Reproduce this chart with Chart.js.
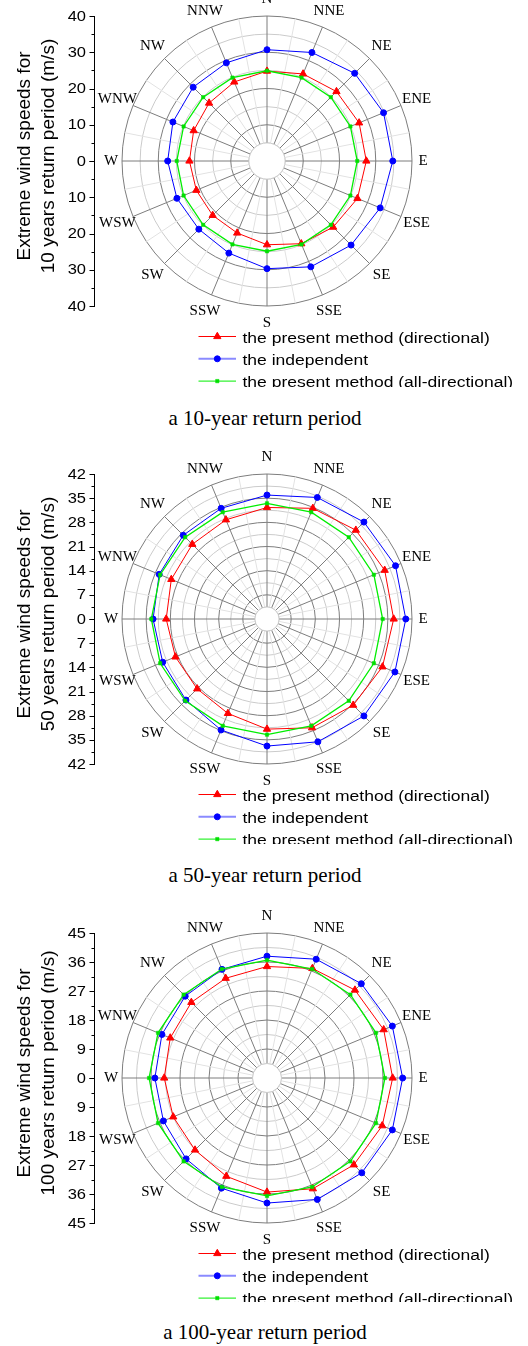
<!DOCTYPE html>
<html>
<head>
<meta charset="utf-8">
<script src="https://cdn.jsdelivr.net/npm/chart.js@4.4.1/dist/chart.umd.min.js"></script>
<style>
  body { margin: 0; background: #fff; width: 528px; height: 1346px; position: relative; overflow: hidden; }
  canvas { position: absolute; left: 0; }
  .caption {
    position: absolute; left: 0; width: 530px; text-align: center;
    font-family: "Liberation Serif", "Times New Roman", serif; font-size: 21px; line-height: 24px; color: #000;
  }
</style>
</head>
<body>
<canvas id="c10" width="528" height="387" style="top:0px"></canvas>
<div class="caption" style="top:406px">a 10-year return period</div>
<canvas id="c50" width="528" height="409" style="top:435px"></canvas>
<div class="caption" style="top:863px">a 50-year return period</div>
<canvas id="c100" width="528" height="407" style="top:895px"></canvas>
<div class="caption" style="top:1320px">a 100-year return period</div>

<script>
const directions = ['N', 'NNE', 'NE', 'ENE', 'E', 'ESE', 'SE', 'SSE', 'S', 'SSW', 'SW', 'WSW', 'W', 'WNW', 'NW', 'NNW'];
const seriesNames = ['the present method (directional)', 'the independent', 'the present method (all-directional)'];

// extreme wind speeds (m/s), 10 years
const directional10 = [24.8, 26.0, 27.1, 27.5, 27.4, 27.0, 25.8, 24.7, 23.1, 21.5, 21.2, 21.1, 21.4, 21.9, 22.6, 23.6];
const independent10 = [30.7, 32.4, 34.2, 34.8, 34.7, 33.8, 32.8, 31.6, 29.7, 27.5, 26.6, 26.9, 27.4, 28.1, 28.8, 29.3];
const allDirectional10 = [24.9, 24.9, 24.9, 24.9, 24.9, 24.9, 24.9, 24.9, 24.9, 24.9, 24.9, 24.9, 24.9, 24.9, 24.9, 24.9];
const ticks10 = [0, 10, 20, 30, 40];

// 50 years
const directional50 = [32.3, 34.7, 36.4, 36.9, 36.7, 36.2, 35.3, 34.1, 31.9, 29.6, 28.6, 28.7, 29.2, 30.0, 30.6, 31.1];
const independent50 = [35.9, 38.1, 39.7, 40.3, 40.2, 40.1, 39.7, 38.5, 36.8, 34.8, 33.2, 32.7, 33.0, 33.8, 34.3, 34.7];
const allDirectional50 = [33.5, 33.5, 33.5, 33.5, 33.5, 33.5, 33.5, 33.5, 33.5, 33.5, 33.5, 33.5, 33.5, 33.5, 33.5, 33.5];
const ticks50 = [0, 7, 14, 21, 28, 35, 42];

// 100 years
const directional100 = [34.6, 36.8, 38.6, 39.2, 39.0, 38.7, 38.1, 37.2, 35.4, 33.0, 31.6, 31.5, 31.9, 32.5, 33.2, 33.5];
const independent100 = [37.8, 39.9, 41.4, 42.1, 42.1, 42.1, 41.6, 40.8, 38.8, 37.0, 35.5, 34.8, 34.8, 35.3, 35.9, 36.5];
const allDirectional100 = [36.6, 36.6, 36.6, 36.6, 36.6, 36.6, 36.6, 36.6, 36.6, 36.6, 36.6, 36.6, 36.6, 36.6, 36.6, 36.6];
const ticks100 = [0, 9, 18, 27, 36, 45];

const DARK = '#7d7d7d';
const LIGHT = '#cbcbcb';
const FAINT = '#e2e2e2';

// every direction gets a blank spoke after it (minor angular grid)
const spokeLabels = directions.flatMap(d => [d, '']);
function withGaps(values) {
  return values.flatMap(v => [v, null]);
}

function isMajor(v, major) {
  const q = v / major;
  return Math.abs(q - Math.round(q)) < 1e-6;
}

function marker(ctx, ds, x, y) {
  const o = { pointStyle: ds.pointStyle, radius: ds.pointRadius, rotation: 0, borderWidth: ds.pointBorderWidth };
  ctx.fillStyle = ds.pointBackgroundColor;
  ctx.strokeStyle = ds.pointBorderColor;
  ctx.lineWidth = ds.pointBorderWidth;
  Chart.helpers.drawPoint(ctx, o, x, y);
}

const polarFrame = {
  id: 'polarFrame',
  beforeDatasetsDraw(chart, args, opts) {
    // white hub in the middle, spokes start at the first ring
    const s = chart.scales.r;
    const ctx = chart.ctx;
    const rh = s.getDistanceFromCenterForValue(opts.hole);
    ctx.save();
    ctx.beginPath();
    ctx.arc(s.xCenter, s.yCenter, rh, 0, Math.PI * 2);
    ctx.fillStyle = '#fff';
    ctx.fill();
    ctx.strokeStyle = LIGHT;
    ctx.lineWidth = 1;
    ctx.stroke();
    ctx.restore();
  },
  afterDraw(chart, args, opts) {
    const s = chart.scales.r;
    const ctx = chart.ctx;
    const cx = s.xCenter;
    const cy = s.yCenter;
    ctx.save();

    // direction names
    ctx.font = '15px "Liberation Serif", "Times New Roman", serif';
    ctx.fillStyle = '#000';
    ctx.textAlign = 'center';
    ctx.textBaseline = 'middle';
    directions.forEach((d, k) => {
      const gap = (k === 4 || k === 12) ? 11 : 17;
      const p = s.getPointPosition(2 * k, s.drawingArea + gap);
      ctx.fillText(d, p.x, p.y);
    });

    // left axis, 0 at the centre, mirrored up and down
    const axisX = 94.5;
    const ticks = opts.ticks;
    const step = ticks[1] - ticks[0];
    const full = s.getDistanceFromCenterForValue(s.max);
    ctx.strokeStyle = '#000';
    ctx.lineWidth = 1;
    ctx.beginPath();
    ctx.moveTo(axisX, Math.round(cy - full));
    ctx.lineTo(axisX, Math.round(cy + full) + 1);
    ticks.forEach(v => {
      const d = s.getDistanceFromCenterForValue(v);
      [cy - d, cy + d].forEach(y => {
        ctx.moveTo(axisX - 5, Math.round(y) + 0.5);
        ctx.lineTo(axisX, Math.round(y) + 0.5);
      });
      if (v < s.max) {
        const dm = s.getDistanceFromCenterForValue(v + step / 2);
        [cy - dm, cy + dm].forEach(y => {
          ctx.moveTo(axisX - 3, Math.round(y) + 0.5);
          ctx.lineTo(axisX, Math.round(y) + 0.5);
        });
      }
    });
    ctx.stroke();

    ctx.font = '15px "Liberation Sans", Arial, sans-serif';
    ctx.textAlign = 'right';
    ctx.textBaseline = 'middle';
    ticks.forEach(v => {
      const d = s.getDistanceFromCenterForValue(v);
      const ys = v === 0 ? [cy] : [cy - d, cy + d];
      ys.forEach(y => {
        ctx.save();
        ctx.translate(86, y + 0.5);
        ctx.scale(1.1, 1);
        ctx.fillText(String(v), 0, 0);
        ctx.restore();
      });
    });

    // axis title
    ctx.font = '19px "Liberation Sans", Arial, sans-serif';
    ctx.textAlign = 'center';
    ctx.textBaseline = 'alphabetic';
    opts.title.forEach((line, i) => {
      ctx.save();
      ctx.translate(30 + i * 24, cy - 5);
      ctx.rotate(-Math.PI / 2);
      ctx.fillText(line, 0, 0);
      ctx.restore();
    });

    // legend under the rose
    chart.data.datasets.forEach((ds, i) => {
      const y = cy + 175.5 + i * 22.3;
      ctx.beginPath();
      ctx.strokeStyle = ds.legendLine || ds.borderColor;
      ctx.lineWidth = ds.legendWidth || 1;
      ctx.moveTo(198.5, y);
      ctx.lineTo(236, y);
      ctx.stroke();
      marker(ctx, ds, 217.3, y);
      ctx.save();
      ctx.font = '15.5px "Liberation Sans", Arial, sans-serif';
      ctx.fillStyle = '#000';
      ctx.textAlign = 'left';
      ctx.translate(242.5, y + 6);
      ctx.scale(1.13, 1);
      ctx.fillText(ds.label, 0, 0);
      ctx.restore();
    });

    ctx.restore();
  }
};

function makeRose(id, pad, ticks, title, directional, independent, allDirectional) {
  const major = ticks[1] - ticks[0];
  const max = ticks[ticks.length - 1];
  return new Chart(document.getElementById(id), {
    type: 'radar',
    data: {
      labels: spokeLabels,
      datasets: [
        {
          label: seriesNames[0],
          data: withGaps(directional),
          borderColor: '#ff0000',
          borderWidth: 1,
          pointStyle: 'triangle',
          pointRadius: 4.2,
          pointBorderWidth: 1,
          pointBackgroundColor: '#ff0000',
          pointBorderColor: '#ff0000',
          spanGaps: true,
          fill: false,
          order: 2
        },
        {
          label: seriesNames[1],
          data: withGaps(independent),
          borderColor: '#0000ff',
          borderWidth: 1,
          pointStyle: 'circle',
          pointRadius: 3,
          pointBorderWidth: 1,
          pointBackgroundColor: '#0000ff',
          pointBorderColor: '#0000ff',
          legendLine: 'rgba(60,60,255,0.6)',
          legendWidth: 2,
          spanGaps: true,
          fill: false,
          order: 1
        },
        {
          label: seriesNames[2],
          data: withGaps(allDirectional),
          borderColor: '#00ee00',
          borderWidth: 1.3,
          pointStyle: 'rect',
          pointRadius: 2.4,
          pointBorderWidth: 0.5,
          pointBackgroundColor: '#00e000',
          pointBorderColor: '#00e000',
          spanGaps: true,
          fill: false,
          order: 0
        }
      ]
    },
    options: {
      responsive: false,
      devicePixelRatio: 1,
      animation: false,
      events: [],
      layout: { padding: pad },
      elements: { line: { tension: 0 } },
      scales: {
        r: {
          min: 0,
          max: max,
          ticks: { display: false, stepSize: major / 2 },
          pointLabels: { display: false },
          grid: {
            circular: true,
            lineWidth: 1,
            color: c => isMajor(c.tick.value, major) ? DARK : LIGHT
          },
          angleLines: {
            lineWidth: 1,
            color: c => (c.index % 2 === 0) ? DARK : FAINT
          }
        }
      },
      plugins: {
        legend: { display: false },
        tooltip: { enabled: false },
        polarFrame: { ticks: ticks, hole: major / 2, title: title }
      }
    },
    plugins: [polarFrame]
  });
}

makeRose('c10', { top: 16, bottom: 81, left: 122, right: 116 }, ticks10,
  ['Extreme wind speeds for', '10 years return period (m/s)'],
  directional10, independent10, allDirectional10);

makeRose('c50', { top: 39, bottom: 80, left: 122, right: 116 }, ticks50,
  ['Extreme wind speeds for', '50 years return period (m/s)'],
  directional50, independent50, allDirectional50);

makeRose('c100', { top: 38, bottom: 79, left: 122, right: 116 }, ticks100,
  ['Extreme wind speeds for', '100 years return period (m/s)'],
  directional100, independent100, allDirectional100);
</script>
</body>
</html>
